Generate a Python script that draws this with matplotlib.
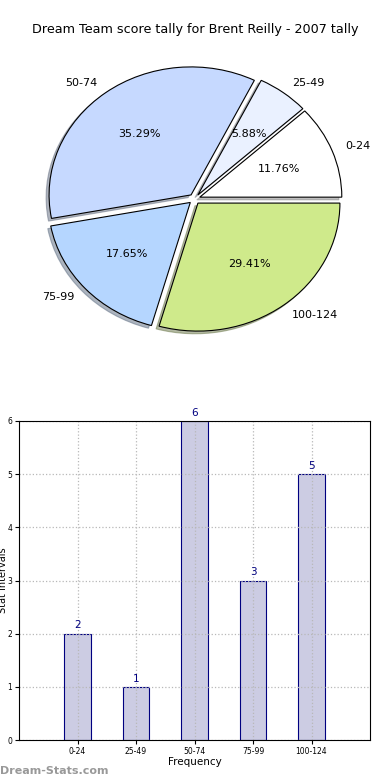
import matplotlib

matplotlib.use("Agg")

import matplotlib.pyplot as plt
import numpy as np

categories = ["0-24", "25-49", "50-74", "75-99", "100-124"]
counts = [2, 1, 6, 3, 5]
pie_colors = ["#ffffff", "#eaf1ff", "#c6d9ff", "#b5d6ff", "#cfea8b"]
title = "Dream Team score tally for Brent Reilly - 2007 tally"

fig = plt.figure(figsize=(3.9, 7.8), dpi=100)

# pie: old-style, not equal aspect (ellipse)
rx, ry = 142.0, 128.0
cx, cy = 194.5, 780 - 199.0
half_w, half_h = 1.3, 1.3
ax_pie = fig.add_axes([
    (cx - half_w * rx) / 390, (cy - half_h * ry) / 780,
    2 * half_w * rx / 390, 2 * half_h * ry / 780,
])
ax_pie.pie(
    counts,
    labels=categories,
    colors=pie_colors,
    explode=[0.04] * len(counts),
    autopct="%1.2f%%",
    shadow={"ox": -0.015, "oy": -0.015, "shade": 0.5},
    startangle=0,
    wedgeprops={"edgecolor": "black", "linewidth": 0.8},
    textprops={"fontsize": 8},
)
ax_pie.set_aspect("auto")
ax_pie.set_xlim(-half_w, half_w)
ax_pie.set_ylim(-half_h, half_h)
ax_pie.axis("off")
fig.text(0.5, 1 - 30 / 780, title, ha="center", va="center", fontsize=9.2)

# bar chart
ax_bar = fig.add_axes([19 / 390, 40 / 780, 351 / 390, 319 / 780])
x = np.arange(1, len(categories) + 1)
ax_bar.bar(x, counts, width=0.45, color="#cccce3", edgecolor="#000080", linewidth=0.8, zorder=2)
for xi, v in zip(x, counts):
    ax_bar.text(xi, v + 0.06, str(v), ha="center", va="bottom", color="#000080", fontsize=7.5, zorder=3)
ax_bar.set_xlim(0, 6)
ax_bar.set_ylim(0, 6)
ax_bar.set_xticks(x)
ax_bar.set_xticklabels(categories)
ax_bar.set_yticks(range(0, 7))
ax_bar.tick_params(labelsize=5.5, length=3, pad=2)
ax_bar.grid(True, linestyle=":", color="#b8b8b8", linewidth=0.9)
ax_bar.set_axisbelow(False)
ax_bar.set_xlabel("Frequency", fontsize=7.5, labelpad=1)
ax_bar.set_ylabel("Stat Intervals", fontsize=7)
ax_bar.yaxis.set_label_coords(-10.5 / 351, 0.5)
for s in ax_bar.spines.values():
    s.set_linewidth(0.8)
    s.set_zorder(5)

fig.text(0.0, 1 - 771 / 780, "Dream-Stats.com", ha="left", va="center", fontsize=8,
         fontweight="bold", color="#999999")

fig.savefig("out.png", dpi=100)
